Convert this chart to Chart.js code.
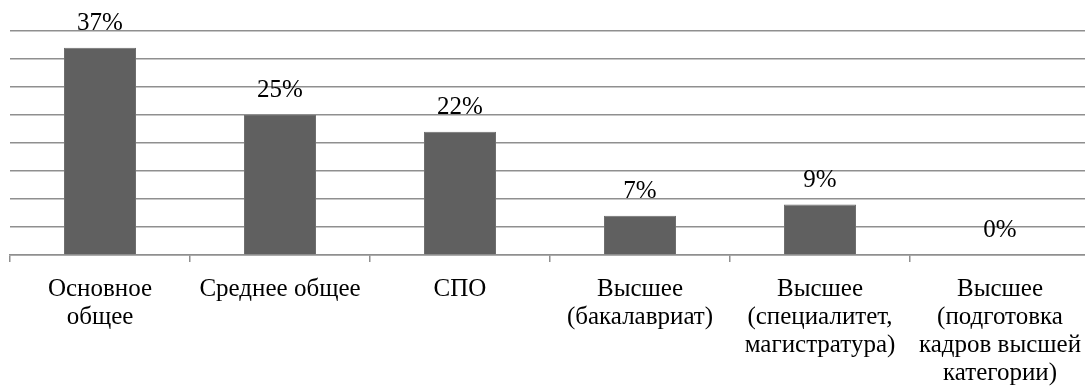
<!DOCTYPE html>
<html lang="ru">
<head>
<meta charset="utf-8">
<script src="https://cdn.jsdelivr.net/npm/chart.js@4/dist/chart.umd.min.js"></script>
<style>
  html, body { margin: 0; padding: 0; background: #ffffff; overflow: hidden; }
  #wrap { width: 1100px; height: 392px; }
</style>
</head>
<body>
<div id="wrap"><canvas id="chart" width="1100" height="392"></canvas></div>
<script>
// Уровень образования (подписи категорий, по строкам)
const categories = [
  ['Основное', 'общее'],
  ['Среднее общее'],
  ['СПО'],
  ['Высшее', '(бакалавриат)'],
  ['Высшее', '(специалитет,', 'магистратура)'],
  ['Высшее', '(подготовка', 'кадров высшей', 'категории)']
];
// Доля, %
const shares = [37, 25, 22, 7, 9, 0];
// Шкала значений
const axisMin = 0;
const axisMax = 40;
const axisStep = 5;

const FONT = '"Liberation Serif", "Times New Roman", serif';
const GRID = '#8f8f8f';

// Подписи значений над столбцами
const valueLabels = {
  id: 'valueLabels',
  afterDatasetsDraw(chart) {
    const ctx = chart.ctx;
    const meta = chart.getDatasetMeta(0);
    ctx.save();
    ctx.font = '25px ' + FONT;
    ctx.fillStyle = '#000000';
    ctx.textAlign = 'center';
    ctx.textBaseline = 'alphabetic';
    meta.data.forEach((bar, i) => {
      ctx.fillText(shares[i] + '%', bar.x, bar.y - 18);
    });
    ctx.restore();
  }
};

function draw() {
  Chart.defaults.font.family = FONT;
  new Chart(document.getElementById('chart'), {
    type: 'bar',
    data: {
      labels: categories,
      datasets: [{
        data: shares,
        backgroundColor: '#606060',
        borderColor: '#6e6e6e',
        borderWidth: 1,
        categoryPercentage: 1.0,
        barPercentage: 0.4
      }]
    },
    options: {
      responsive: false,
      animation: false,
      devicePixelRatio: 1,
      layout: { padding: { left: 10, right: 10, top: 31, bottom: 0 } },
      plugins: {
        legend: { display: false },
        tooltip: { enabled: false }
      },
      scales: {
        x: {
          offset: true,
          afterFit(scale) { scale.height = 137; },
          grid: {
            offset: true,
            drawOnChartArea: false,
            drawTicks: true,
            tickLength: 7,
            color: GRID,
            lineWidth: 1.5
          },
          border: { display: true, color: GRID, width: 1.5 },
          ticks: {
            autoSkip: false,
            maxRotation: 0,
            minRotation: 0,
            padding: 13,
            color: '#000000',
            font: { family: FONT, size: 25, lineHeight: 1.12 }
          }
        },
        y: {
          min: axisMin,
          max: axisMax,
          ticks: { display: false, stepSize: axisStep },
          grid: {
            drawTicks: false,
            tickLength: 0,
            color: GRID,
            lineWidth: 1.5
          },
          border: { display: false }
        }
      }
    },
    plugins: [valueLabels]
  });
}

if (document.fonts && document.fonts.load) {
  document.fonts.load('25px "Liberation Serif"').then(draw, draw);
} else {
  draw();
}
</script>
</body>
</html>
